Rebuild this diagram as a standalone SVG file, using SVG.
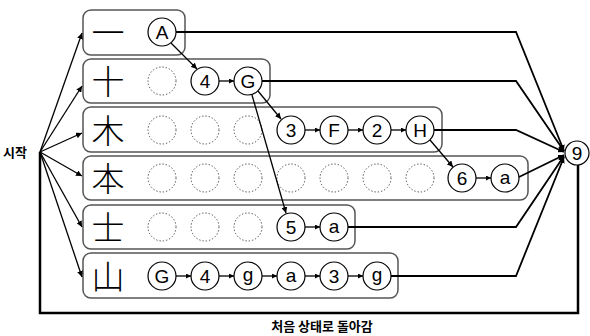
<svg xmlns="http://www.w3.org/2000/svg" width="590" height="336" viewBox="0 0 590 336">
<defs>
<marker id="ah" viewBox="0 0 10 10" refX="10" refY="5" markerWidth="6" markerHeight="6" markerUnits="userSpaceOnUse" orient="auto">
<path d="M0,0 L10,5 L0,10 z" fill="#000"/>
</marker>
<marker id="ahs" viewBox="0 0 10 10" refX="10" refY="5" markerWidth="5" markerHeight="5" markerUnits="userSpaceOnUse" orient="auto">
<path d="M0,0 L10,5 L0,10 z" fill="#000"/>
</marker>
</defs>
<style>
.box{fill:#fff;stroke:#555;stroke-width:1.5}
.n{fill:#fff;stroke:#000;stroke-width:1.2}
.d{fill:none;stroke:#444;stroke-width:1;stroke-dasharray:1.3 2}
.t{font-family:"Liberation Sans",Arial,sans-serif;font-size:19px;text-anchor:middle;dominant-baseline:central;fill:#000}
.k{font-family:"Noto Sans CJK JP","Noto Sans CJK SC",sans-serif;font-size:33px;font-weight:200;text-anchor:middle;dominant-baseline:central;fill:#000}
.lbl{font-family:"Noto Sans CJK KR",sans-serif;font-size:13px;font-weight:bold;fill:#000}
.c{fill:none;stroke:#000;stroke-width:1.3}
.c9{fill:none;stroke:#000;stroke-width:1.8}
.ret{fill:none;stroke:#000;stroke-width:2.5}
</style>

<g id="row1">
<rect class="box" x="83" y="10" width="102" height="45" rx="8"/>
<text class="k" x="108" y="31">一</text>
<g id="r1A"><circle class="n" cx="162" cy="32" r="14"/><text class="t" x="162" y="32">A</text></g>
</g>

<g id="row2">
<rect class="box" x="83" y="59" width="187" height="44" rx="8"/>
<text class="k" x="108" y="80">十</text>
<circle class="d" cx="162" cy="81" r="14"/>
<g id="r2_4"><circle class="n" cx="205" cy="81" r="14"/><text class="t" x="205" y="81">4</text></g>
<g id="r2G"><circle class="n" cx="248" cy="81" r="14"/><text class="t" x="248" y="81">G</text></g>
</g>

<g id="row3">
<rect class="box" x="83" y="107" width="359" height="45" rx="8"/>
<text class="k" x="108" y="129">木</text>
<circle class="d" cx="162" cy="130" r="14"/>
<circle class="d" cx="205" cy="130" r="14"/>
<circle class="d" cx="248" cy="130" r="14"/>
<g id="r3_3"><circle class="n" cx="291" cy="130" r="14"/><text class="t" x="291" y="130">3</text></g>
<g id="r3F"><circle class="n" cx="334" cy="130" r="14"/><text class="t" x="334" y="130">F</text></g>
<g id="r3_2"><circle class="n" cx="377" cy="130" r="14"/><text class="t" x="377" y="130">2</text></g>
<g id="r3H"><circle class="n" cx="420" cy="130" r="14"/><text class="t" x="420" y="130">H</text></g>
</g>

<g id="row4">
<rect class="box" x="83" y="156" width="445" height="44" rx="8"/>
<text class="k" x="108" y="177">本</text>
<circle class="d" cx="162" cy="178" r="14"/>
<circle class="d" cx="205" cy="178" r="14"/>
<circle class="d" cx="248" cy="178" r="14"/>
<circle class="d" cx="291" cy="178" r="14"/>
<circle class="d" cx="334" cy="178" r="14"/>
<circle class="d" cx="377" cy="178" r="14"/>
<circle class="d" cx="420" cy="178" r="14"/>
<g id="r4_6"><circle class="n" cx="462" cy="178" r="14"/><text class="t" x="462" y="178">6</text></g>
<g id="r4a"><circle class="n" cx="505" cy="178" r="14"/><text class="t" x="505" y="177">a</text></g>
</g>

<g id="row5">
<rect class="box" x="83" y="205" width="272" height="44" rx="8"/>
<text class="k" x="108" y="226">士</text>
<circle class="d" cx="162" cy="227" r="14"/>
<circle class="d" cx="205" cy="227" r="14"/>
<circle class="d" cx="248" cy="227" r="14"/>
<g id="r5_5"><circle class="n" cx="291" cy="227" r="14"/><text class="t" x="291" y="227">5</text></g>
<g id="r5a"><circle class="n" cx="334" cy="227" r="14"/><text class="t" x="334" y="226">a</text></g>
</g>

<g id="row6">
<rect class="box" x="83" y="253" width="315" height="45" rx="8"/>
<text class="k" x="108" y="275">山</text>
<g id="r6G"><circle class="n" cx="162" cy="276" r="14"/><text class="t" x="162" y="276">G</text></g>
<g id="r6_4"><circle class="n" cx="205" cy="276" r="14"/><text class="t" x="205" y="276">4</text></g>
<g id="r6g"><circle class="n" cx="248" cy="276" r="14"/><text class="t" x="248" y="274">g</text></g>
<g id="r6a"><circle class="n" cx="291" cy="276" r="14"/><text class="t" x="291" y="275">a</text></g>
<g id="r6_3"><circle class="n" cx="334" cy="276" r="14"/><text class="t" x="334" y="276">3</text></g>
<g id="r6g2"><circle class="n" cx="377" cy="276" r="14"/><text class="t" x="377" y="274">g</text></g>
</g>

<g id="end9">
<circle class="n" cx="577" cy="153" r="12"/>
<text class="t" x="577" y="153">9</text>
</g>

<g id="start">
<text class="lbl" x="3" y="157">시작</text>
</g>

<g id="connectors">
<line class="c" x1="40" y1="152" x2="82" y2="33" marker-end="url(#ah)"/>
<line class="c" x1="40" y1="152" x2="82" y2="86" marker-end="url(#ah)"/>
<line class="c" x1="40" y1="152" x2="82" y2="133" marker-end="url(#ah)"/>
<line class="c" x1="40" y1="152" x2="82" y2="176" marker-end="url(#ah)"/>
<line class="c" x1="40" y1="152" x2="82" y2="227" marker-end="url(#ah)"/>
<line class="c" x1="40" y1="152" x2="82" y2="277" marker-end="url(#ah)"/>
<line class="c" x1="171" y1="43" x2="197" y2="69" marker-end="url(#ah)"/>
<line class="c" x1="219" y1="81" x2="234" y2="81" marker-end="url(#ahs)"/>
<line class="c" x1="258" y1="91" x2="281" y2="119" marker-end="url(#ah)"/>
<line class="c" x1="252" y1="95" x2="286" y2="213" marker-end="url(#ah)"/>
<line class="c" x1="305" y1="130" x2="320" y2="130" marker-end="url(#ahs)"/>
<line class="c" x1="348" y1="130" x2="363" y2="130" marker-end="url(#ahs)"/>
<line class="c" x1="391" y1="130" x2="406" y2="130" marker-end="url(#ahs)"/>
<line class="c" x1="430" y1="140" x2="453" y2="167" marker-end="url(#ah)"/>
<line class="c" x1="476" y1="178" x2="491" y2="178" marker-end="url(#ahs)"/>
<line class="c" x1="305" y1="227" x2="320" y2="227" marker-end="url(#ahs)"/>
<line class="c" x1="176" y1="276" x2="191" y2="276" marker-end="url(#ahs)"/>
<line class="c" x1="219" y1="276" x2="234" y2="276" marker-end="url(#ahs)"/>
<line class="c" x1="262" y1="276" x2="277" y2="276" marker-end="url(#ahs)"/>
<line class="c" x1="305" y1="276" x2="320" y2="276" marker-end="url(#ahs)"/>
<line class="c" x1="348" y1="276" x2="363" y2="276" marker-end="url(#ahs)"/>
<polyline class="c9" points="176,32 516,32 564,151" marker-end="url(#ah)"/>
<polyline class="c9" points="262,81 516,81 564,151" marker-end="url(#ah)"/>
<polyline class="c9" points="434,130 516,130 564,152" marker-end="url(#ah)"/>
<line class="c9" x1="519" y1="177" x2="564" y2="155" marker-end="url(#ah)"/>
<polyline class="c9" points="348,227 516,227 564,156" marker-end="url(#ah)"/>
<polyline class="c9" points="391,276 516,276 564,157" marker-end="url(#ah)"/>
<polyline class="ret" points="578,165 578,313 40,313 40,152"/>
</g>

<text class="lbl" x="322" y="331" text-anchor="middle">처음 상태로 돌아감</text>
</svg>
